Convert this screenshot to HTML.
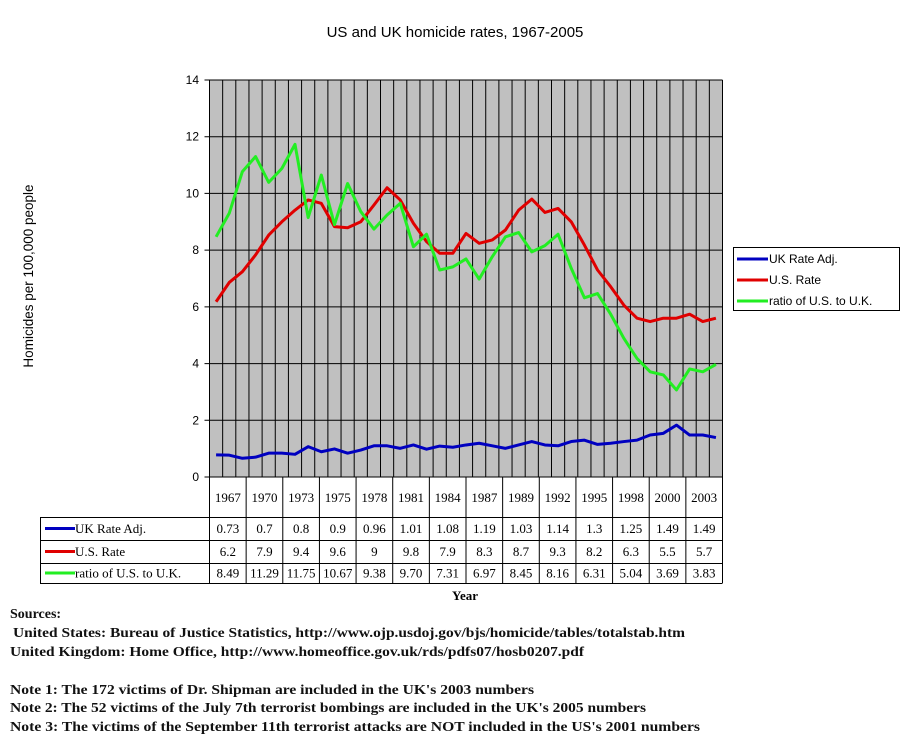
<!DOCTYPE html>
<html><head><meta charset="utf-8"><style>
html,body{margin:0;padding:0;background:#fff;}
svg{display:block;}
.ser{font-family:"Liberation Serif",serif;}
.san{font-family:"Liberation Sans",sans-serif;}
</style></head><body>
<svg id="chart" width="911" height="745" viewBox="0 0 911 745" xmlns="http://www.w3.org/2000/svg">
<text class="san" x="455" y="37" font-size="15" text-anchor="middle">US and UK homicide rates, 1967-2005</text>
<text class="san" x="33" y="276" font-size="13.5" text-anchor="middle" transform="rotate(-90 33 276)">Homicides per 100,000 people</text>
<rect x="209.5" y="80" width="513" height="397" fill="#c0c0c0"/>
<g id="grid"></g>
<g id="yticks"></g>
<g id="series"></g>
<g id="table"></g>
<text class="ser" x="465" y="600" font-size="13" font-weight="bold" text-anchor="middle">Year</text>
<g>
<rect x="733.5" y="247.5" width="166" height="63" fill="#fff" stroke="#000"/>
<g><line x1="737" y1="259" x2="768" y2="259" stroke="#0000c0" stroke-width="3"/><text class="san" x="769" y="263" font-size="12">UK Rate Adj.</text></g>
<g><line x1="737" y1="280" x2="768" y2="280" stroke="#e00000" stroke-width="3"/><text class="san" x="769" y="284" font-size="12">U.S. Rate</text></g>
<g><line x1="737" y1="301" x2="768" y2="301" stroke="#22ee22" stroke-width="3"/><text class="san" x="769" y="305" font-size="12">ratio of U.S. to  U.K.</text></g>
</g>
<g class="ser" font-size="14" font-weight="bold" fill="#111">
<text x="10" y="618">Sources:</text>
<text x="13" y="637" textLength="672" lengthAdjust="spacingAndGlyphs">United States: Bureau of Justice Statistics, http://www.ojp.usdoj.gov/bjs/homicide/tables/totalstab.htm</text>
<text x="10" y="656" textLength="574" lengthAdjust="spacingAndGlyphs">United Kingdom: Home Office,  http://www.homeoffice.gov.uk/rds/pdfs07/hosb0207.pdf</text>
<text x="10" y="694" textLength="524" lengthAdjust="spacingAndGlyphs">Note 1: The 172 victims of Dr. Shipman are included in the UK's 2003 numbers</text>
<text x="10" y="712" textLength="636" lengthAdjust="spacingAndGlyphs">Note 2: The 52 victims of the July 7th terrorist bombings are included in the UK's 2005 numbers</text>
<text x="10" y="731" textLength="690" lengthAdjust="spacingAndGlyphs">Note 3: The victims of the September 11th terrorist attacks are NOT included in the US's 2001 numbers</text>
</g>
</svg>
<script>
const years = [];
for (let y = 1967; y <= 2005; y++) years.push(y);
const ukRate = [0.78,0.77,0.66,0.70,0.84,0.84,0.80,1.07,0.89,0.99,0.84,0.95,1.10,1.10,1.01,1.13,0.98,1.09,1.05,1.13,1.19,1.10,1.01,1.13,1.25,1.13,1.10,1.25,1.30,1.15,1.19,1.25,1.30,1.48,1.54,1.83,1.48,1.48,1.39];
const usRate = [6.18,6.86,7.24,7.83,8.53,9.0,9.41,9.77,9.65,8.83,8.79,9.0,9.59,10.2,9.77,8.95,8.3,7.89,7.89,8.59,8.24,8.36,8.71,9.41,9.8,9.33,9.47,9.0,8.18,7.3,6.71,6.06,5.6,5.48,5.6,5.6,5.74,5.48,5.6];
const ratio = [8.47,9.3,10.77,11.3,10.39,10.88,11.73,9.15,10.65,8.9,10.35,9.36,8.74,9.24,9.65,8.12,8.56,7.3,7.41,7.69,6.98,7.77,8.47,8.62,7.94,8.16,8.56,7.36,6.32,6.47,5.74,4.89,4.18,3.71,3.6,3.07,3.81,3.71,3.97];
const yTicks = [0,2,4,6,8,10,12,14];
const tableYears = ["1967","1970","1973","1975","1978","1981","1984","1987","1989","1992","1995","1998","2000","2003"];
const tableUK = ["0.73","0.7","0.8","0.9","0.96","1.01","1.08","1.19","1.03","1.14","1.3","1.25","1.49","1.49"];
const tableUS = ["6.2","7.9","9.4","9.6","9","9.8","7.9","8.3","8.7","9.3","8.2","6.3","5.5","5.7"];
const tableRatio = ["8.49","11.29","11.75","10.67","9.38","9.70","7.31","6.97","8.45","8.16","6.31","5.04","3.69","3.83"];

const NS = "http://www.w3.org/2000/svg";
const L = 209.5, R = 722.5, T = 80, B = 477, YMAX = 14;
const bw = (R - L) / years.length;
const xs = i => L + bw * (i + 0.5);
const ys = v => B - (v / YMAX) * (B - T);
function mk(tag, attrs, parent) { const e = document.createElementNS(NS, tag); for (const k in attrs) e.setAttribute(k, attrs[k]); parent.appendChild(e); return e; }

const grid = document.getElementById('grid');
for (let i = 0; i <= years.length; i++) {
  const l = mk('line', {x1: L + bw * i, x2: L + bw * i, y1: T, y2: B, stroke: '#000', 'stroke-width': 1}, grid);
  
  
}
const yt = document.getElementById('yticks');
yTicks.forEach(v => {
  const l = mk('line', {x1: L - 5, x2: R, y1: ys(v), y2: ys(v), stroke: '#000', 'stroke-width': 1}, grid);
  
  
  const t = mk('text', {x: 199, y: ys(v) + 4, 'font-size': 12, 'text-anchor': 'end', class: 'san'}, yt);
  t.textContent = v;
  
  
});

const ser = document.getElementById('series');
[[ukRate, '#0000c0', 'uk-rate-line'], [usRate, '#e00000', 'us-rate-line'], [ratio, '#22ee22', 'ratio-line']].forEach(([d, c, n]) => {
  const p = mk('polyline', {points: d.map((v, i) => xs(i) + ',' + ys(v)).join(' '), fill: 'none', stroke: c, 'stroke-width': 3, 'stroke-linejoin': 'round'}, ser);
  
  
});

// data table
const tb = document.getElementById('table');
const cw = (R - L) / tableYears.length;
const rowY = [477, 517, 540, 563, 583];
for (let i = 0; i <= tableYears.length; i++) {
  const l = mk('line', {x1: L + cw * i, x2: L + cw * i, y1: rowY[0], y2: rowY[4], stroke: '#000'}, tb);
  
  
}
[40.5].forEach(x => { const l = mk('line', {x1: x, x2: x, y1: rowY[1], y2: rowY[4], stroke: '#000'}, tb);   });
rowY.slice(1).forEach(y => { const l = mk('line', {x1: 40, x2: R, y1: y + 0.5, y2: y + 0.5, stroke: '#000'}, tb);   });
tableYears.forEach((y, i) => {
  const t = mk('text', {x: L + cw * (i + 0.5), y: 502, 'font-size': 13, 'text-anchor': 'middle', class: 'ser'}, tb);
  t.textContent = y;
  
  
});
const rows = [[tableUK, '#0000c0', 'UK Rate Adj.'], [tableUS, '#e00000', 'U.S. Rate'], [tableRatio, '#22ee22', 'ratio of U.S. to  U.K.']];
rows.forEach(([vals, c, lbl], r) => {
  const cy = (rowY[r + 1] + rowY[r + 2]) / 2;
  const k = mk('line', {x1: 45, x2: 75, y1: cy, y2: cy, stroke: c, 'stroke-width': 3}, tb);
  
  
  const lt = mk('text', {x: 75, y: cy + 4.5, 'font-size': 13, class: 'ser'}, tb);
  lt.textContent = lbl;
  
  
  vals.forEach((v, i) => {
    const t = mk('text', {x: L + cw * (i + 0.5), y: cy + 4.5, 'font-size': 13, 'text-anchor': 'middle', class: 'ser'}, tb);
    t.textContent = v;
    
    
  });
});
</script>
</body></html>
